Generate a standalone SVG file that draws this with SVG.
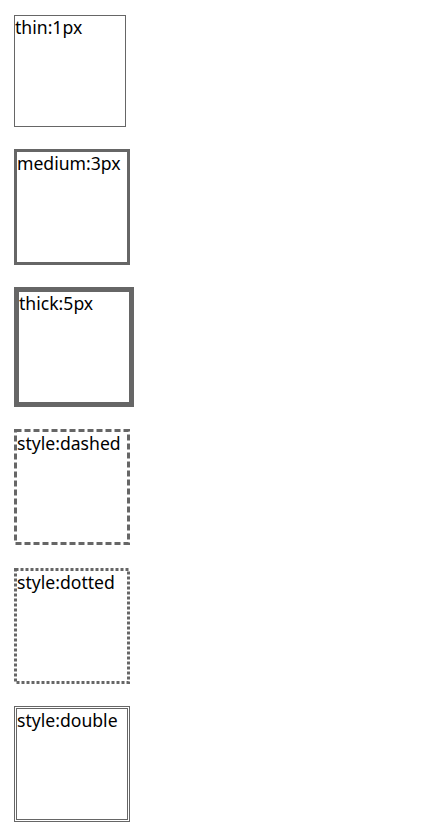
<svg xmlns="http://www.w3.org/2000/svg" width="448" height="840" viewBox="0 0 448 840">
<style>
.b{fill:#fff;stroke:#666}
.t{font-family:"Noto Sans","Open Sans",sans-serif;font-size:17.6px;fill:#000}
</style>
<rect x="0" y="0" width="448" height="840" fill="#fff"/>
<g id="thin">
<rect class="b" x="14.5" y="15.5" width="111" height="111" stroke-width="1"/>
<text class="t" x="15" y="34">thin:1px</text>
</g>
<g id="medium">
<rect class="b" x="15.5" y="150.5" width="113" height="113" stroke-width="3"/>
<text class="t" x="17" y="170">medium:3px</text>
</g>
<g id="thick">
<rect class="b" x="16.5" y="289.5" width="115" height="115" stroke-width="5"/>
<text class="t" x="19" y="309.5">thick:5px</text>
</g>
<g id="dashed">
<rect class="b" x="15.5" y="430.5" width="113" height="113" stroke-width="3" stroke-dasharray="6 3"/>
<text class="t" x="17" y="449.5">style:dashed</text>
</g>
<g id="dotted">
<rect class="b" x="15.5" y="569.5" width="113" height="113" stroke-width="3" stroke-dasharray="3 2"/>
<text class="t" x="17" y="589">style:dotted</text>
</g>
<g id="double">
<rect class="b" x="14.5" y="706.5" width="115" height="115" stroke-width="1"/>
<rect class="b" x="16.5" y="708.5" width="111" height="111" stroke-width="1"/>
<text class="t" x="17" y="727">style:double</text>
</g>
<g id="connectors"/>
</svg>
